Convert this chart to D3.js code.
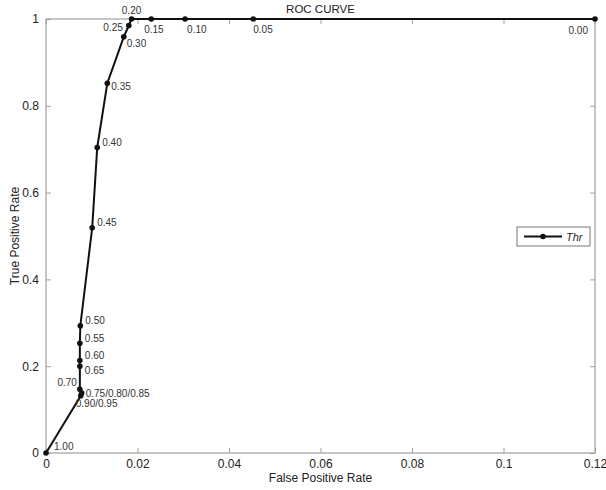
<!DOCTYPE html>
<html>
<head>
<meta charset="utf-8">
<script src="https://cdn.jsdelivr.net/npm/d3@7"></script>
<style>
  body { margin: 0; background: #fff; }
  text { font-family: "Liberation Sans", Arial, sans-serif; }
</style>
</head>
<body>
<div id="chart"></div>
<script>
// threshold labels and ROC points
var thresholds = ["1.00", "0.90/0.95", "0.75/0.80/0.85", "0.70", "0.65", "0.60", "0.55", "0.50",
  "0.45", "0.40", "0.35", "0.30", "0.25", "0.20", "0.15", "0.10", "0.05", "0.00"];
var fpr = [0, 0.0076, 0.0078, 0.0074, 0.0074, 0.0074, 0.0074, 0.0075,
  0.0101, 0.0112, 0.0134, 0.0170, 0.0181, 0.0187, 0.0230, 0.0304, 0.0453, 0.12];
var tpr = [0, 0.132, 0.138, 0.147, 0.200, 0.213, 0.253, 0.293,
  0.519, 0.704, 0.852, 0.959, 0.985, 1, 1, 1, 1, 1];
// label offsets (dx, dy, anchor) per threshold
var labelPos = [
  [8, -6, "start"], [-5, 9, "start"], [4, 1, "start"], [-3, -6, "end"], [5, 5, "start"], [5, -4, "start"],
  [5, -4, "start"], [5, -4, "start"], [5, -4, "start"], [5, -4, "start"], [4, 4, "start"], [3, 8, "start"],
  [-6, 3, "end"], [0, -8, "middle"], [-7, 11, "start"], [2, 11, "start"], [0, 11, "start"], [-7, 12, "end"]
];
var xTicks = [0, 0.02, 0.04, 0.06, 0.08, 0.1, 0.12];
var yTicks = [0, 0.2, 0.4, 0.6, 0.8, 1];

var width = 606, height = 490;
var margin = {top: 19, right: 11, bottom: 37, left: 46};
var innerW = width - margin.left - margin.right;
var innerH = height - margin.top - margin.bottom;

var svg = d3.select("#chart").append("svg")
  .attr("width", width)
  .attr("height", height);

var g = svg.append("g")
  .attr("transform", "translate(" + margin.left + "," + margin.top + ")");

var x = d3.scaleLinear().domain([0, 0.12]).range([0, innerW]);
var y = d3.scaleLinear().domain([0, 1]).range([innerH, 0]);

var axisColor = "#a0a0a0";

// axes with inward ticks
function styleAxis(sel) {
  sel.select(".domain").remove();
  sel.selectAll(".tick line").attr("stroke", axisColor);
  sel.selectAll(".tick text").attr("fill", "#222").style("font-size", "12px");
}
var fmt = function(d) { return d3.format("")(+d.toFixed(2)); };

g.append("g").attr("transform", "translate(0," + innerH + ")")
  .call(d3.axisBottom(x).tickValues(xTicks).tickSize(-5).tickPadding(6).tickFormat(fmt))
  .call(styleAxis);
g.append("g")
  .call(d3.axisTop(x).tickValues(xTicks).tickSize(-5).tickFormat(""))
  .call(styleAxis);
g.append("g")
  .call(d3.axisLeft(y).tickValues(yTicks).tickSize(-5).tickPadding(7).tickFormat(fmt))
  .call(styleAxis);
g.append("g").attr("transform", "translate(" + innerW + ",0)")
  .call(d3.axisRight(y).tickValues(yTicks).tickSize(-5).tickFormat(""))
  .call(styleAxis);

g.append("rect")
  .attr("width", innerW).attr("height", innerH)
  .attr("fill", "none").attr("stroke", axisColor).attr("stroke-width", 1.2);

// data
var pts = fpr.map(function(v, i) { return {x: v, y: tpr[i], label: thresholds[i], pos: labelPos[i]}; });

g.append("path")
  .datum(pts)
  .attr("fill", "none")
  .attr("stroke", "#111")
  .attr("stroke-width", 2)
  .attr("d", d3.line().x(function(d) { return x(d.x); }).y(function(d) { return y(d.y); }));

g.selectAll(".dot").data(pts).enter().append("circle")
  .attr("class", "dot")
  .attr("cx", function(d) { return x(d.x); })
  .attr("cy", function(d) { return y(d.y); })
  .attr("r", 2.8)
  .attr("fill", "#111");

g.selectAll(".lbl").data(pts).enter().append("text")
  .attr("class", "lbl")
  .attr("x", function(d) { return x(d.x) + d.pos[0]; })
  .attr("y", function(d) { return y(d.y) + d.pos[1]; })
  .attr("text-anchor", function(d) { return d.pos[2]; })
  .attr("dominant-baseline", "middle")
  .style("font-size", "10px")
  .attr("fill", "#333")
  .text(function(d) { return d.label; });

// title and axis labels
svg.append("text").attr("x", margin.left + innerW / 2).attr("y", 13)
  .attr("text-anchor", "middle").style("font-size", "11.5px").attr("fill", "#222").text("ROC CURVE");
svg.append("text").attr("x", margin.left + innerW / 2).attr("y", 482)
  .attr("text-anchor", "middle").style("font-size", "12px").attr("fill", "#222").text("False Positive Rate");
svg.append("text")
  .attr("transform", "translate(19," + (margin.top + innerH / 2) + ") rotate(-90)")
  .attr("text-anchor", "middle").style("font-size", "12px").attr("fill", "#222").text("True Positive Rate");

// legend
var lg = svg.append("g").attr("transform", "translate(517,227)");
lg.append("rect").attr("width", 73).attr("height", 19)
  .attr("fill", "#fff").attr("stroke", "#777").attr("stroke-width", 1);
lg.append("line").attr("x1", 7).attr("x2", 45).attr("y1", 9.5).attr("y2", 9.5)
  .attr("stroke", "#111").attr("stroke-width", 2);
lg.append("circle").attr("cx", 26).attr("cy", 9.5).attr("r", 2.8).attr("fill", "#111");
lg.append("text").attr("x", 49).attr("y", 13.5)
  .style("font-size", "11px").style("font-style", "italic").attr("fill", "#222").text("Thr");
</script>
</body>
</html>
